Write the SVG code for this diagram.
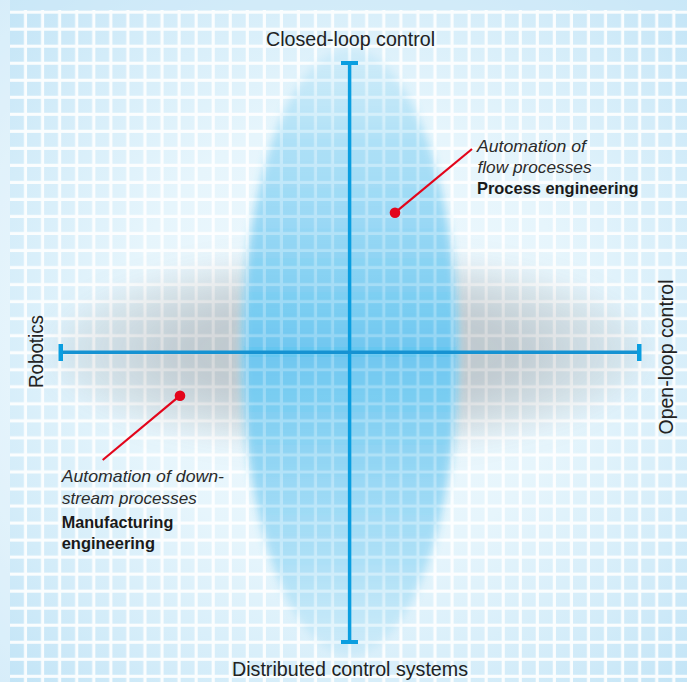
<svg xmlns="http://www.w3.org/2000/svg" width="687" height="682" viewBox="0 0 687 682">
  <defs>
    <radialGradient id="bg" gradientUnits="userSpaceOnUse" cx="350" cy="340" r="500">
      <stop offset="0" stop-color="#f2fafe"/>
      <stop offset="0.45" stop-color="#e6f5fc"/>
      <stop offset="0.75" stop-color="#d3ecf9"/>
      <stop offset="1" stop-color="#c0e3f6"/>
    </radialGradient>
    <radialGradient id="grayGrad" cx="0.5" cy="0.5" r="0.5">
      <stop offset="0" stop-color="#8d959b" stop-opacity="0.5"/>
      <stop offset="0.55" stop-color="#8d959b" stop-opacity="0.45"/>
      <stop offset="1" stop-color="#8d959b" stop-opacity="0.1"/>
    </radialGradient>
    <linearGradient id="blueGrad" x1="0" y1="0" x2="0" y2="1">
      <stop offset="0" stop-color="#7ccdf0" stop-opacity="0.15"/>
      <stop offset="0.15" stop-color="#4bbbed" stop-opacity="0.36"/>
      <stop offset="0.5" stop-color="#0aa2e6" stop-opacity="0.58"/>
      <stop offset="0.85" stop-color="#4bbbed" stop-opacity="0.36"/>
      <stop offset="1" stop-color="#7ccdf0" stop-opacity="0.15"/>
    </linearGradient>
    <filter id="blurGray" x="-20%" y="-50%" width="140%" height="200%">
      <feGaussianBlur stdDeviation="13"/>
    </filter>
    <filter id="blurBlue" x="-30%" y="-15%" width="160%" height="130%">
      <feGaussianBlur stdDeviation="4.5"/>
    </filter>
    <mask id="notBlue" maskUnits="userSpaceOnUse" x="0" y="0" width="687" height="682">
      <rect x="0" y="0" width="687" height="682" fill="#ffffff"/>
      <ellipse cx="350" cy="352" rx="108" ry="300" fill="#000000" filter="url(#blurBlue)"/>
    </mask>
    <pattern id="gridLines" patternUnits="userSpaceOnUse" x="10" y="13.65" width="17.06" height="17.03">
      <rect x="14" y="0" width="3.06" height="17.03" fill="#ffffff"/>
      <rect x="0" y="14" width="17.06" height="3.03" fill="#ffffff"/>
    </pattern>
  </defs>
  <style>
    .axisLbl { font-family: "Liberation Sans", Arial, sans-serif; font-size: 19.5px; fill: #222222; }
    .it { font-family: "Liberation Sans", Arial, sans-serif; font-size: 17px; font-style: italic; fill: #2b2b2b; }
    .bd { font-family: "Liberation Sans", Arial, sans-serif; font-size: 17px; font-weight: bold; fill: #1a1a1a; }
    .axis { stroke-width: 3.5; fill: none; }
    .cap { fill: #0a9ee0; }
    .leader { stroke: #e3051b; stroke-width: 2.2; fill: none; }
    .dot { fill: #e3051b; }
  </style>

  <g id="background">
    <rect x="0" y="0" width="687" height="682" fill="url(#bg)"/>
    <rect x="10" y="10" width="677" height="672" fill="url(#gridLines)" opacity="0.85"/>
    <rect x="0" y="0" width="10" height="682" fill="#ffffff" opacity="0.35"/>
    <rect x="10" y="0" width="677" height="10" fill="#cfe9f8" opacity="0.6"/>
  </g>

  <g id="regions">
    <ellipse id="region-gray" cx="350" cy="352" rx="295" ry="97" fill="url(#grayGrad)" filter="url(#blurGray)" mask="url(#notBlue)"/>
    <ellipse id="region-blue" cx="350" cy="352" rx="108" ry="304" fill="url(#blueGrad)" filter="url(#blurBlue)"/>
    <rect x="10" y="10" width="677" height="672" fill="url(#gridLines)" opacity="0.22"/>
  </g>

  <g id="axes">
    <line class="axis" x1="349.6" y1="63" x2="349.6" y2="642" stroke="#0a9ee0"/>
    <rect class="cap" x="341" y="61" width="17" height="4"/>
    <rect class="cap" x="341" y="640" width="17" height="4"/>
    <line class="axis" x1="60" y1="352.3" x2="639" y2="352.3" stroke="#1592d2"/>
    <rect class="cap" x="58.5" y="344" width="4.5" height="17"/>
    <rect class="cap" x="637" y="344" width="4.5" height="17"/>
  </g>

  <g id="connectors">
    <line class="leader" x1="395" y1="212.7" x2="472" y2="149"/>
    <circle class="dot" cx="395" cy="212.7" r="5.3"/>
    <line class="leader" x1="180" y1="395.7" x2="102.7" y2="460"/>
    <circle class="dot" cx="180" cy="395.7" r="5.3"/>
  </g>

  <g id="label-top">
    <text class="axisLbl" x="350.5" y="46" text-anchor="middle" textLength="169" lengthAdjust="spacingAndGlyphs">Closed-loop control</text>
  </g>
  <g id="label-bottom">
    <text class="axisLbl" x="350" y="676" text-anchor="middle" textLength="236" lengthAdjust="spacingAndGlyphs">Distributed control systems</text>
  </g>
  <g id="label-left">
    <text class="axisLbl" transform="translate(42.5,351.5) rotate(-90)" x="0" y="0" text-anchor="middle" textLength="73" lengthAdjust="spacingAndGlyphs">Robotics</text>
  </g>
  <g id="label-right">
    <text class="axisLbl" transform="translate(672.5,357) rotate(-90)" x="0" y="0" text-anchor="middle" textLength="155" lengthAdjust="spacingAndGlyphs">Open-loop control</text>
  </g>

  <g id="node-process">
    <text class="it" x="477" y="151.5" textLength="109" lengthAdjust="spacingAndGlyphs">Automation of</text>
    <text class="it" x="477.5" y="172.5" textLength="114" lengthAdjust="spacingAndGlyphs">flow processes</text>
    <text class="bd" x="477" y="194" textLength="161.5" lengthAdjust="spacingAndGlyphs">Process engineering</text>
  </g>

  <g id="node-manufacturing">
    <text class="it" x="61.7" y="481.5" textLength="162.3" lengthAdjust="spacingAndGlyphs">Automation of down-</text>
    <text class="it" x="62" y="504" textLength="134.7" lengthAdjust="spacingAndGlyphs">stream processes</text>
    <text class="bd" x="61.7" y="527.5" textLength="111.6" lengthAdjust="spacingAndGlyphs">Manufacturing</text>
    <text class="bd" x="61.7" y="549" textLength="93.3" lengthAdjust="spacingAndGlyphs">engineering</text>
  </g>
</svg>
